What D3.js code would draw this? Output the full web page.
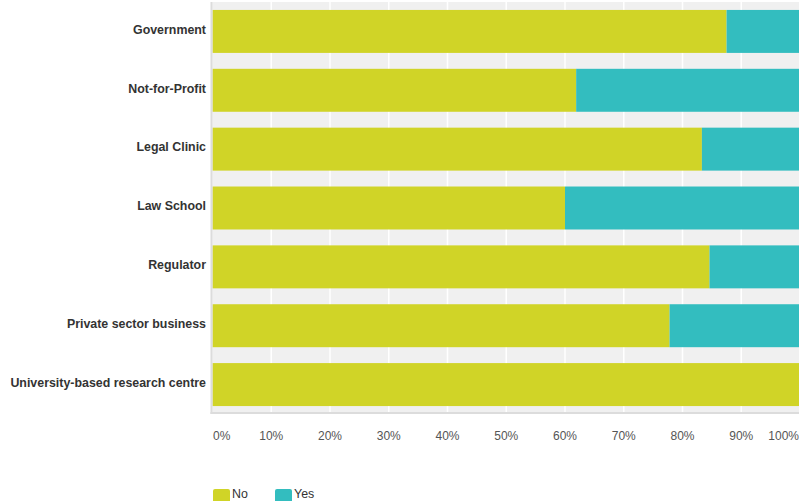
<!DOCTYPE html>
<head>
<meta charset="utf-8">
<script src="https://d3js.org/d3.v7.min.js"></script>
</head>
<style>
body { margin: 0; background: #fff; }
svg { display: block; font-family: "Liberation Sans", Arial, sans-serif; }
.cat { font-size: 12.4px; font-weight: bold; fill: #333; }
.tick-label { font-size: 12px; fill: #555; }
.legend text { font-size: 12.4px; fill: #333; }
</style>
<body>
<script>
var categories = ["Government", "Not-for-Profit", "Legal Clinic", "Law School",
                  "Regulator", "Private sector business", "University-based research centre"];
var noValues  = [87.5, 61.9, 83.3, 60.0, 84.6, 77.8, 100];
var yesValues = [12.5, 38.1, 16.7, 40.0, 15.4, 22.2, 0];
var tickValues = [0, 10, 20, 30, 40, 50, 60, 70, 80, 90, 100];
var seriesNames = ["No", "Yes"];
var colors = ["#d0d427", "#33bdbf"];

var W = 799, H = 501;
var plotLeft = 212.5, plotRight = 800, plotTop = 2, plotBottom = 414;

var svg = d3.select("body").append("svg")
    .attr("width", W)
    .attr("height", H);

var x = d3.scaleLinear().domain([0, 100]).range([plotLeft, plotRight]);
var y = d3.scaleBand().domain(categories).range([plotTop, plotBottom]).paddingInner(0.27).paddingOuter(0.135);

// plot background
svg.append("rect")
    .attr("x", plotLeft).attr("y", plotTop)
    .attr("width", plotRight - plotLeft).attr("height", plotBottom - plotTop - 1)
    .attr("fill", "#f0f0f0");

// grid lines
svg.selectAll(".grid")
    .data(tickValues.slice(1, -1))
  .enter().append("line")
    .attr("x1", function(d) { return x(d); })
    .attr("x2", function(d) { return x(d); })
    .attr("y1", plotTop).attr("y2", plotBottom - 1)
    .attr("stroke", "#fff")
    .attr("stroke-width", 1.5);

// stacked bars
var rows = categories.map(function(c, i) { return { cat: c, no: noValues[i], yes: yesValues[i] }; });
var stack = d3.stack().keys(["no", "yes"])(rows);

svg.selectAll(".series")
    .data(stack)
  .enter().append("g")
    .attr("fill", function(d, i) { return colors[i]; })
  .selectAll("rect")
    .data(function(d) { return d; })
  .enter().append("rect")
    .attr("x", function(d) { return x(d[0]); })
    .attr("y", function(d) { return y(d.data.cat); })
    .attr("width", function(d) { return Math.max(0, x(d[1]) - x(d[0])); })
    .attr("height", y.bandwidth());

// axis lines
svg.append("line")
    .attr("x1", plotLeft - 1).attr("x2", plotLeft - 1)
    .attr("y1", plotTop).attr("y2", plotBottom)
    .attr("stroke", "#dcdcdc").attr("stroke-width", 2);
svg.append("line")
    .attr("x1", plotLeft - 2).attr("x2", plotRight)
    .attr("y1", plotBottom - 1).attr("y2", plotBottom - 1)
    .attr("stroke", "#dcdcdc").attr("stroke-width", 2);

// category labels
svg.selectAll(".cat")
    .data(categories)
  .enter().append("text")
    .attr("class", "cat")
    .attr("x", 206)
    .attr("y", function(d) { return y(d) + y.bandwidth() / 2 - 2; })
    .attr("dy", "0.35em")
    .attr("text-anchor", "end")
    .text(function(d) { return d; });

// x tick labels
svg.selectAll(".tick-label")
    .data(tickValues)
  .enter().append("text")
    .attr("class", "tick-label")
    .attr("x", function(d, i) {
      if (i === 0) return x(d) + 0.5;
      if (i === tickValues.length - 1) return W;
      return x(d);
    })
    .attr("y", 440)
    .attr("text-anchor", function(d, i) {
      if (i === 0) return "start";
      if (i === tickValues.length - 1) return "end";
      return "middle";
    })
    .text(function(d) { return d + "%"; });

// legend
var legend = svg.append("g").attr("class", "legend");
var legX = [213, 275];
seriesNames.forEach(function(name, i) {
  legend.append("rect")
    .attr("x", legX[i]).attr("y", 489)
    .attr("width", 17).attr("height", 14)
    .attr("rx", 2)
    .attr("fill", colors[i]);
  legend.append("text")
    .attr("x", legX[i] + 19).attr("y", 498)
    .text(name);
});
</script>
</body>
